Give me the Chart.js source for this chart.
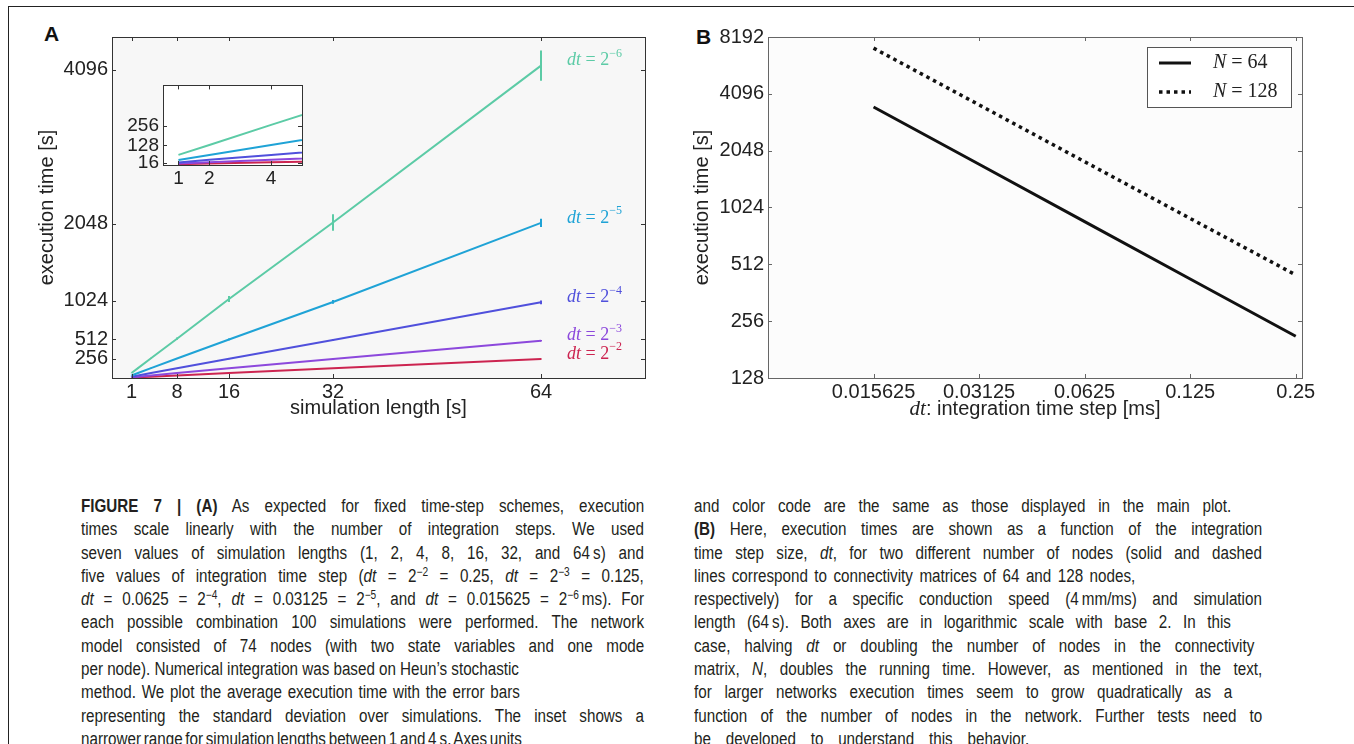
<!DOCTYPE html>
<html>
<head>
<meta charset="utf-8">
<script src="https://cdn.jsdelivr.net/npm/chart.js@4.4.0/dist/chart.umd.min.js"></script>
<style>
body{margin:0;background:#fff;width:1354px;height:744px;overflow:hidden;position:relative;font-family:"Liberation Sans",Arial,sans-serif}
.fr-top{position:absolute;left:8px;top:6px;width:1346px;height:1px;background:#222}
.fr-left{position:absolute;left:8px;top:6px;width:1px;height:738px;background:#222}
canvas{position:absolute}
.letter{position:absolute;font:bold 21px "Liberation Sans",Arial,sans-serif;color:#111}
.cap{position:absolute;top:495px;width:800px;font-family:"Liberation Sans",Arial,sans-serif;font-size:18px;line-height:23.3px;color:#231f20;transform:scaleX(0.845);transform-origin:0 0}
.cap div{height:23.3px;white-space:nowrap}
.cap sup{font-size:12px;line-height:0;vertical-align:6px}
</style>
</head>
<body>
<div class="fr-top"></div>
<div class="fr-left"></div>
<div class="letter" style="left:44px;top:22px">A</div>
<div class="letter" style="left:696px;top:25px">B</div>
<canvas id="chartA" width="670" height="440" style="left:0;top:0"></canvas>
<canvas id="chartInset" width="215" height="125" style="left:100px;top:70px"></canvas>
<canvas id="chartB" width="684" height="440" style="left:670px;top:0"></canvas>

<div class="cap" data-left="81" style="left:81px">
<div data-end="644"><span><b>FIGURE 7 | (A)</b> As expected for fixed time-step schemes, execution</span></div>
<div data-end="644"><span>times scale linearly with the number of integration steps. We used</span></div>
<div data-end="644"><span>seven values of simulation lengths (1, 2, 4, 8, 16, 32, and 64&#8201;s) and</span></div>
<div data-end="644"><span>five values of integration time step (<i>dt</i> = 2<sup>−2</sup> = 0.25, <i>dt</i> = 2<sup>−3</sup> = 0.125,</span></div>
<div data-end="644"><span><i>dt</i> = 0.0625 = 2<sup>−4</sup>, <i>dt</i> = 0.03125 = 2<sup>−5</sup>, and <i>dt</i> = 0.015625 = 2<sup>−6</sup>&#8201;ms). For</span></div>
<div data-end="644"><span>each possible combination 100 simulations were performed. The network</span></div>
<div data-end="644"><span>model consisted of 74 nodes (with two state variables and one mode</span></div>
<div data-end="519"><span>per node). Numerical integration was based on Heun’s stochastic</span></div>
<div data-end="520"><span>method. We plot the average execution time with the error bars</span></div>
<div data-end="644"><span>representing the standard deviation over simulations. The inset shows a</span></div>
<div data-end="522"><span>narrower range for simulation lengths between 1 and 4&#8201;s. Axes units</span></div>
</div>

<div class="cap" data-left="694" style="left:694px">
<div data-end="1231"><span>and color code are the same as those displayed in the main plot.</span></div>
<div data-end="1262"><span><b>(B)</b> Here, execution times are shown as a function of the integration</span></div>
<div data-end="1262"><span>time step size, <i>dt</i>, for two different number of nodes (solid and dashed</span></div>
<div data-end="1135"><span>lines correspond to connectivity matrices of 64 and 128 nodes,</span></div>
<div data-end="1262"><span>respectively) for a specific conduction speed (4&#8201;mm/ms) and simulation</span></div>
<div data-end="1231"><span>length (64&#8201;s). Both axes are in logarithmic scale with base 2. In this</span></div>
<div data-end="1254"><span>case, halving <i>dt</i> or doubling the number of nodes in the connectivity</span></div>
<div data-end="1262"><span>matrix, <i>N</i>, doubles the running time. However, as mentioned in the text,</span></div>
<div data-end="1232"><span>for larger networks execution times seem to grow quadratically as a</span></div>
<div data-end="1262"><span>function of the number of nodes in the network. Further tests need to</span></div>
<div data-end="1029"><span>be developed to understand this behavior.</span></div>
</div>

<script>
// ---- panel A data (simulation length vs execution time) ----
const simLength = [1, 2, 4, 8, 16, 32, 64];
const mainTicksX = [1, 8, 16, 32, 64];
const mainTicksY = [256, 512, 1024, 2048, 4096];
const insetTicksX = [1, 2, 4];
const insetTicksY = [16, 128, 256];
const dtExp = ['−6', '−5', '−4', '−3', '−2'];
const time_dt6 = [66, 131, 262, 522, 1050, 2065, 4150];
const time_dt5 = [33, 66, 131, 259, 512, 1010, 2060];
const time_dt4 = [17, 34, 66, 130, 255, 505, 1005];
const time_dt3 = [9, 18, 34, 66, 128, 252, 495];
const time_dt2 = [5, 10, 18, 34, 66, 128, 252];
const err_dt6 = [2, 4, 8, 15, 40, 110, 200];
const err_dt5 = [1, 2, 4, 8, 12, 25, 55];
const err_dt4 = [1, 1, 2, 4, 6, 10, 25];
const err_dt3 = [0, 1, 1, 2, 3, 5, 10];
const err_dt2 = [0, 0, 1, 1, 2, 3, 6];
const dtColors = ['#5ccba6', '#1fa3d6', '#5050dc', '#8c48dc', '#cc2450'];

// ---- panel B data (dt vs execution time) ----
const dtStep = [0.015625, 0.03125, 0.0625, 0.125, 0.25];
const timeTicksB = [128, 256, 512, 1024, 2048, 4096, 8192];
const time_N64 = [3490, 1735, 862, 428, 213];
const time_N128 = [7150, 3580, 1790, 896, 450];
const nodeLabels = ['64', '128'];

const seriesA = [time_dt6, time_dt5, time_dt4, time_dt3, time_dt2];
const errA = [err_dt6, err_dt5, err_dt4, err_dt3, err_dt2];

// caption lines: stretch word gaps so each line ends where it does in the print
const capScale = 0.845;
document.querySelectorAll('.cap').forEach(function(col) {
    const left = parseFloat(col.dataset.left);
    col.querySelectorAll('div').forEach(function(line) {
        const span = line.firstElementChild;
        const target = (parseFloat(line.dataset.end) - left) / capScale;
        const gaps = (span.textContent.match(/ /g) || []).length;
        if (gaps) span.style.wordSpacing = ((target - span.offsetWidth) / gaps) + 'px';
    });
});

Chart.defaults.font.family = '"Liberation Sans", Arial, sans-serif';
Chart.defaults.font.size = 20;
Chart.defaults.color = '#222';

function datasetsA(withErr, n) {
    return seriesA.map(function(s, i) {
        return {
            data: s.slice(0, n).map(function(v, j) { return {x: simLength[j], y: v}; }),
            errors: withErr ? errA[i] : null,
            exp: dtExp[i],
            borderColor: dtColors[i],
            borderWidth: 2,
            pointRadius: 0,
            tension: 0,
            fill: false
        };
    });
}

function setTicks(list) {
    return function(scale) { scale.ticks = list.map(function(v) { return {value: v}; }); };
}
function plain(v) { return String(v); }

// draws a run of text pieces with different fonts
function drawParts(ctx, x, y, parts, color) {
    ctx.save();
    ctx.fillStyle = color;
    ctx.textBaseline = 'middle';
    ctx.textAlign = 'left';
    parts.forEach(function(p) {
        ctx.font = p.f;
        ctx.fillText(p.t, x, y + (p.dy || 0));
        x += ctx.measureText(p.t).width;
    });
    ctx.restore();
}
function partsWidth(ctx, parts) {
    let w = 0;
    ctx.save();
    parts.forEach(function(p) { ctx.font = p.f; w += ctx.measureText(p.t).width; });
    ctx.restore();
    return w;
}

const frame = {
    id: 'frame',
    beforeDraw(chart, args, o) {
        const a = chart.chartArea, ctx = chart.ctx;
        ctx.save();
        ctx.fillStyle = o.bg;
        ctx.fillRect(a.left, a.top, a.right - a.left, a.bottom - a.top);
        ctx.restore();
    },
    afterDatasetsDraw(chart, args, o) {
        const a = chart.chartArea, ctx = chart.ctx;
        const len = 4;
        ctx.save();
        ctx.strokeStyle = o.color;
        ctx.lineWidth = 1;
        ctx.strokeRect(Math.round(a.left) + 0.5, Math.round(a.top) + 0.5,
            Math.round(a.right - a.left), Math.round(a.bottom - a.top));
        ctx.beginPath();
        chart.scales.x.ticks.forEach(function(t) {
            const px = Math.round(chart.scales.x.getPixelForValue(t.value)) + 0.5;
            ctx.moveTo(px, a.bottom); ctx.lineTo(px, a.bottom - len);
            ctx.moveTo(px, a.top); ctx.lineTo(px, a.top + len);
        });
        chart.scales.y.ticks.forEach(function(t) {
            const py = Math.round(chart.scales.y.getPixelForValue(t.value)) + 0.5;
            ctx.moveTo(a.left, py); ctx.lineTo(a.left + len, py);
            ctx.moveTo(a.right, py); ctx.lineTo(a.right - len, py);
        });
        ctx.stroke();
        ctx.restore();
    }
};

const errorBars = {
    id: 'errorBars',
    afterDatasetsDraw(chart) {
        const ctx = chart.ctx, x = chart.scales.x, y = chart.scales.y;
        chart.data.datasets.forEach(function(ds) {
            if (!ds.errors) return;
            ctx.save();
            ctx.strokeStyle = ds.borderColor;
            ctx.lineWidth = 2;
            ds.data.forEach(function(p, j) {
                const e = ds.errors[j];
                if (!e) return;
                const px = x.getPixelForValue(p.x);
                ctx.beginPath();
                ctx.moveTo(px, y.getPixelForValue(p.y - e));
                ctx.lineTo(px, y.getPixelForValue(p.y + e));
                ctx.stroke();
            });
            ctx.restore();
        });
    }
};

const seriesTags = {
    id: 'seriesTags',
    afterDatasetsDraw(chart) {
        const ctx = chart.ctx, x = chart.scales.x, y = chart.scales.y;
        chart.data.datasets.forEach(function(ds) {
            const last = ds.data[ds.data.length - 1];
            const px = x.getPixelForValue(last.x) + 26;
            const py = y.getPixelForValue(last.y) - 5;
            drawParts(ctx, px, py, [
                {t: 'dt', f: 'italic 18px "Liberation Serif", serif'},
                {t: ' = 2', f: '18px "Liberation Serif", serif'},
                {t: ds.exp, f: '12px "Liberation Serif", serif', dy: -7}
            ], ds.borderColor);
        });
    }
};

const legendB = {
    id: 'legendB',
    afterDatasetsDraw(chart) {
        const ctx = chart.ctx, a = chart.chartArea;
        const w = 144, h = 60;
        const bx = a.right - 11 - w, by = a.top + 10;
        ctx.save();
        ctx.fillStyle = '#fff';
        ctx.fillRect(bx, by, w, h);
        ctx.strokeStyle = '#555';
        ctx.lineWidth = 1;
        ctx.strokeRect(Math.round(bx) + 0.5, Math.round(by) + 0.5, w, h);
        chart.data.datasets.forEach(function(ds, i) {
            const ry = by + 16 + i * 29;
            ctx.beginPath();
            ctx.strokeStyle = ds.borderColor;
            ctx.lineWidth = ds.borderWidth;
            ctx.setLineDash(ds.borderDash || []);
            ctx.moveTo(bx + 12, ry);
            ctx.lineTo(bx + 44, ry);
            ctx.stroke();
            ctx.setLineDash([]);
            drawParts(ctx, bx + 66, ry, [
                {t: 'N', f: 'italic 20px "Liberation Serif", serif'},
                {t: ' = ' + ds.label, f: '20px "Liberation Serif", serif'}
            ], '#222');
        });
        ctx.restore();
    }
};

const titleB = {
    id: 'titleB',
    afterDraw(chart) {
        const ctx = chart.ctx, a = chart.chartArea;
        const parts = [
            {t: 'dt', f: 'italic 21px "Liberation Serif", serif'},
            {t: ': integration time step [ms]', f: '20px "Liberation Sans", Arial, sans-serif'}
        ];
        const w = partsWidth(ctx, parts);
        drawParts(ctx, (a.left + a.right) / 2 - w / 2, a.bottom + 31, parts, '#222');
    }
};

const noGrid = {display: false, drawTicks: false};

// ---- panel A main ----
new Chart(document.getElementById('chartA'), {
    type: 'line',
    data: {datasets: datasetsA(true, 7)},
    options: {
        responsive: false,
        animation: false,
        layout: {padding: {top: 37, right: 25, left: 0, bottom: 0}},
        plugins: {legend: {display: false}, tooltip: {enabled: false}, frame: {bg: '#f7f7f7', color: '#333'}},
        scales: {
            x: {
                type: 'linear', min: -2, max: 80,
                grid: noGrid, border: {display: false},
                ticks: {autoSkip: false, padding: 2, maxRotation: 0, callback: plain},
                afterBuildTicks: setTicks(mainTicksX),
                afterFit: function(s) { s.height = 62; },
                title: {display: true, text: 'simulation length [s]', padding: {top: 0, bottom: 20}}
            },
            y: {
                type: 'linear', min: 0, max: 4530,
                grid: noGrid, border: {display: false},
                ticks: {autoSkip: false, padding: 4, callback: plain},
                afterBuildTicks: setTicks(mainTicksY),
                afterFit: function(s) { s.width = 112; },
                title: {display: true, text: 'execution time [s]', padding: {top: 35, bottom: 0}}
            }
        }
    },
    plugins: [frame, errorBars, seriesTags]
});

// ---- panel A inset ----
new Chart(document.getElementById('chartInset'), {
    type: 'line',
    data: {datasets: datasetsA(false, 4)},
    options: {
        responsive: false,
        animation: false,
        layout: {padding: {top: 11, right: 13, left: 0, bottom: 0}},
        plugins: {legend: {display: false}, tooltip: {enabled: false}, frame: {bg: '#ffffff', color: '#333'}},
        scales: {
            x: {
                type: 'linear', min: 0.5, max: 5,
                grid: noGrid, border: {display: false},
                ticks: {autoSkip: false, padding: 2, maxRotation: 0, font: {size: 19}, callback: plain},
                afterBuildTicks: setTicks(insetTicksX),
                afterFit: function(s) { s.height = 30; }
            },
            y: {
                type: 'linear', min: 0, max: 520,
                grid: noGrid, border: {display: false},
                ticks: {autoSkip: false, padding: 4, font: {size: 19}, callback: plain},
                afterBuildTicks: setTicks(insetTicksY),
                afterFit: function(s) { s.width = 63; }
            }
        }
    },
    plugins: [frame]
});

// ---- panel B ----
new Chart(document.getElementById('chartB'), {
    type: 'line',
    data: {
        datasets: [
            {label: nodeLabels[0], data: dtStep.map(function(v, j) { return {x: v, y: time_N64[j]}; }),
             borderColor: '#111', borderWidth: 3, pointRadius: 0, fill: false},
            {label: nodeLabels[1], data: dtStep.map(function(v, j) { return {x: v, y: time_N128[j]}; }),
             borderColor: '#111', borderWidth: 3.5, borderDash: [3.5, 4], pointRadius: 0, fill: false}
        ]
    },
    options: {
        responsive: false,
        animation: false,
        layout: {padding: {top: 37, right: 52, left: 0, bottom: 0}},
        plugins: {legend: {display: false}, tooltip: {enabled: false}, frame: {bg: '#fcfcfc', color: '#666'}},
        scales: {
            x: {
                type: 'logarithmic', min: 0.0078125, max: 0.2605, bounds: 'data',
                grid: noGrid, border: {display: false},
                ticks: {autoSkip: false, padding: 2, maxRotation: 0, callback: plain},
                afterBuildTicks: setTicks(dtStep),
                afterFit: function(s) { s.height = 62; }
            },
            y: {
                type: 'logarithmic', min: 128, max: 8192, bounds: 'data',
                grid: noGrid, border: {display: false},
                ticks: {autoSkip: false, padding: 4, callback: plain},
                afterBuildTicks: setTicks(timeTicksB),
                afterFit: function(s) { s.width = 98; },
                title: {display: true, text: 'execution time [s]', padding: {top: 20, bottom: 0}}
            }
        }
    },
    plugins: [frame, legendB, titleB]
});
</script>
</body>
</html>
